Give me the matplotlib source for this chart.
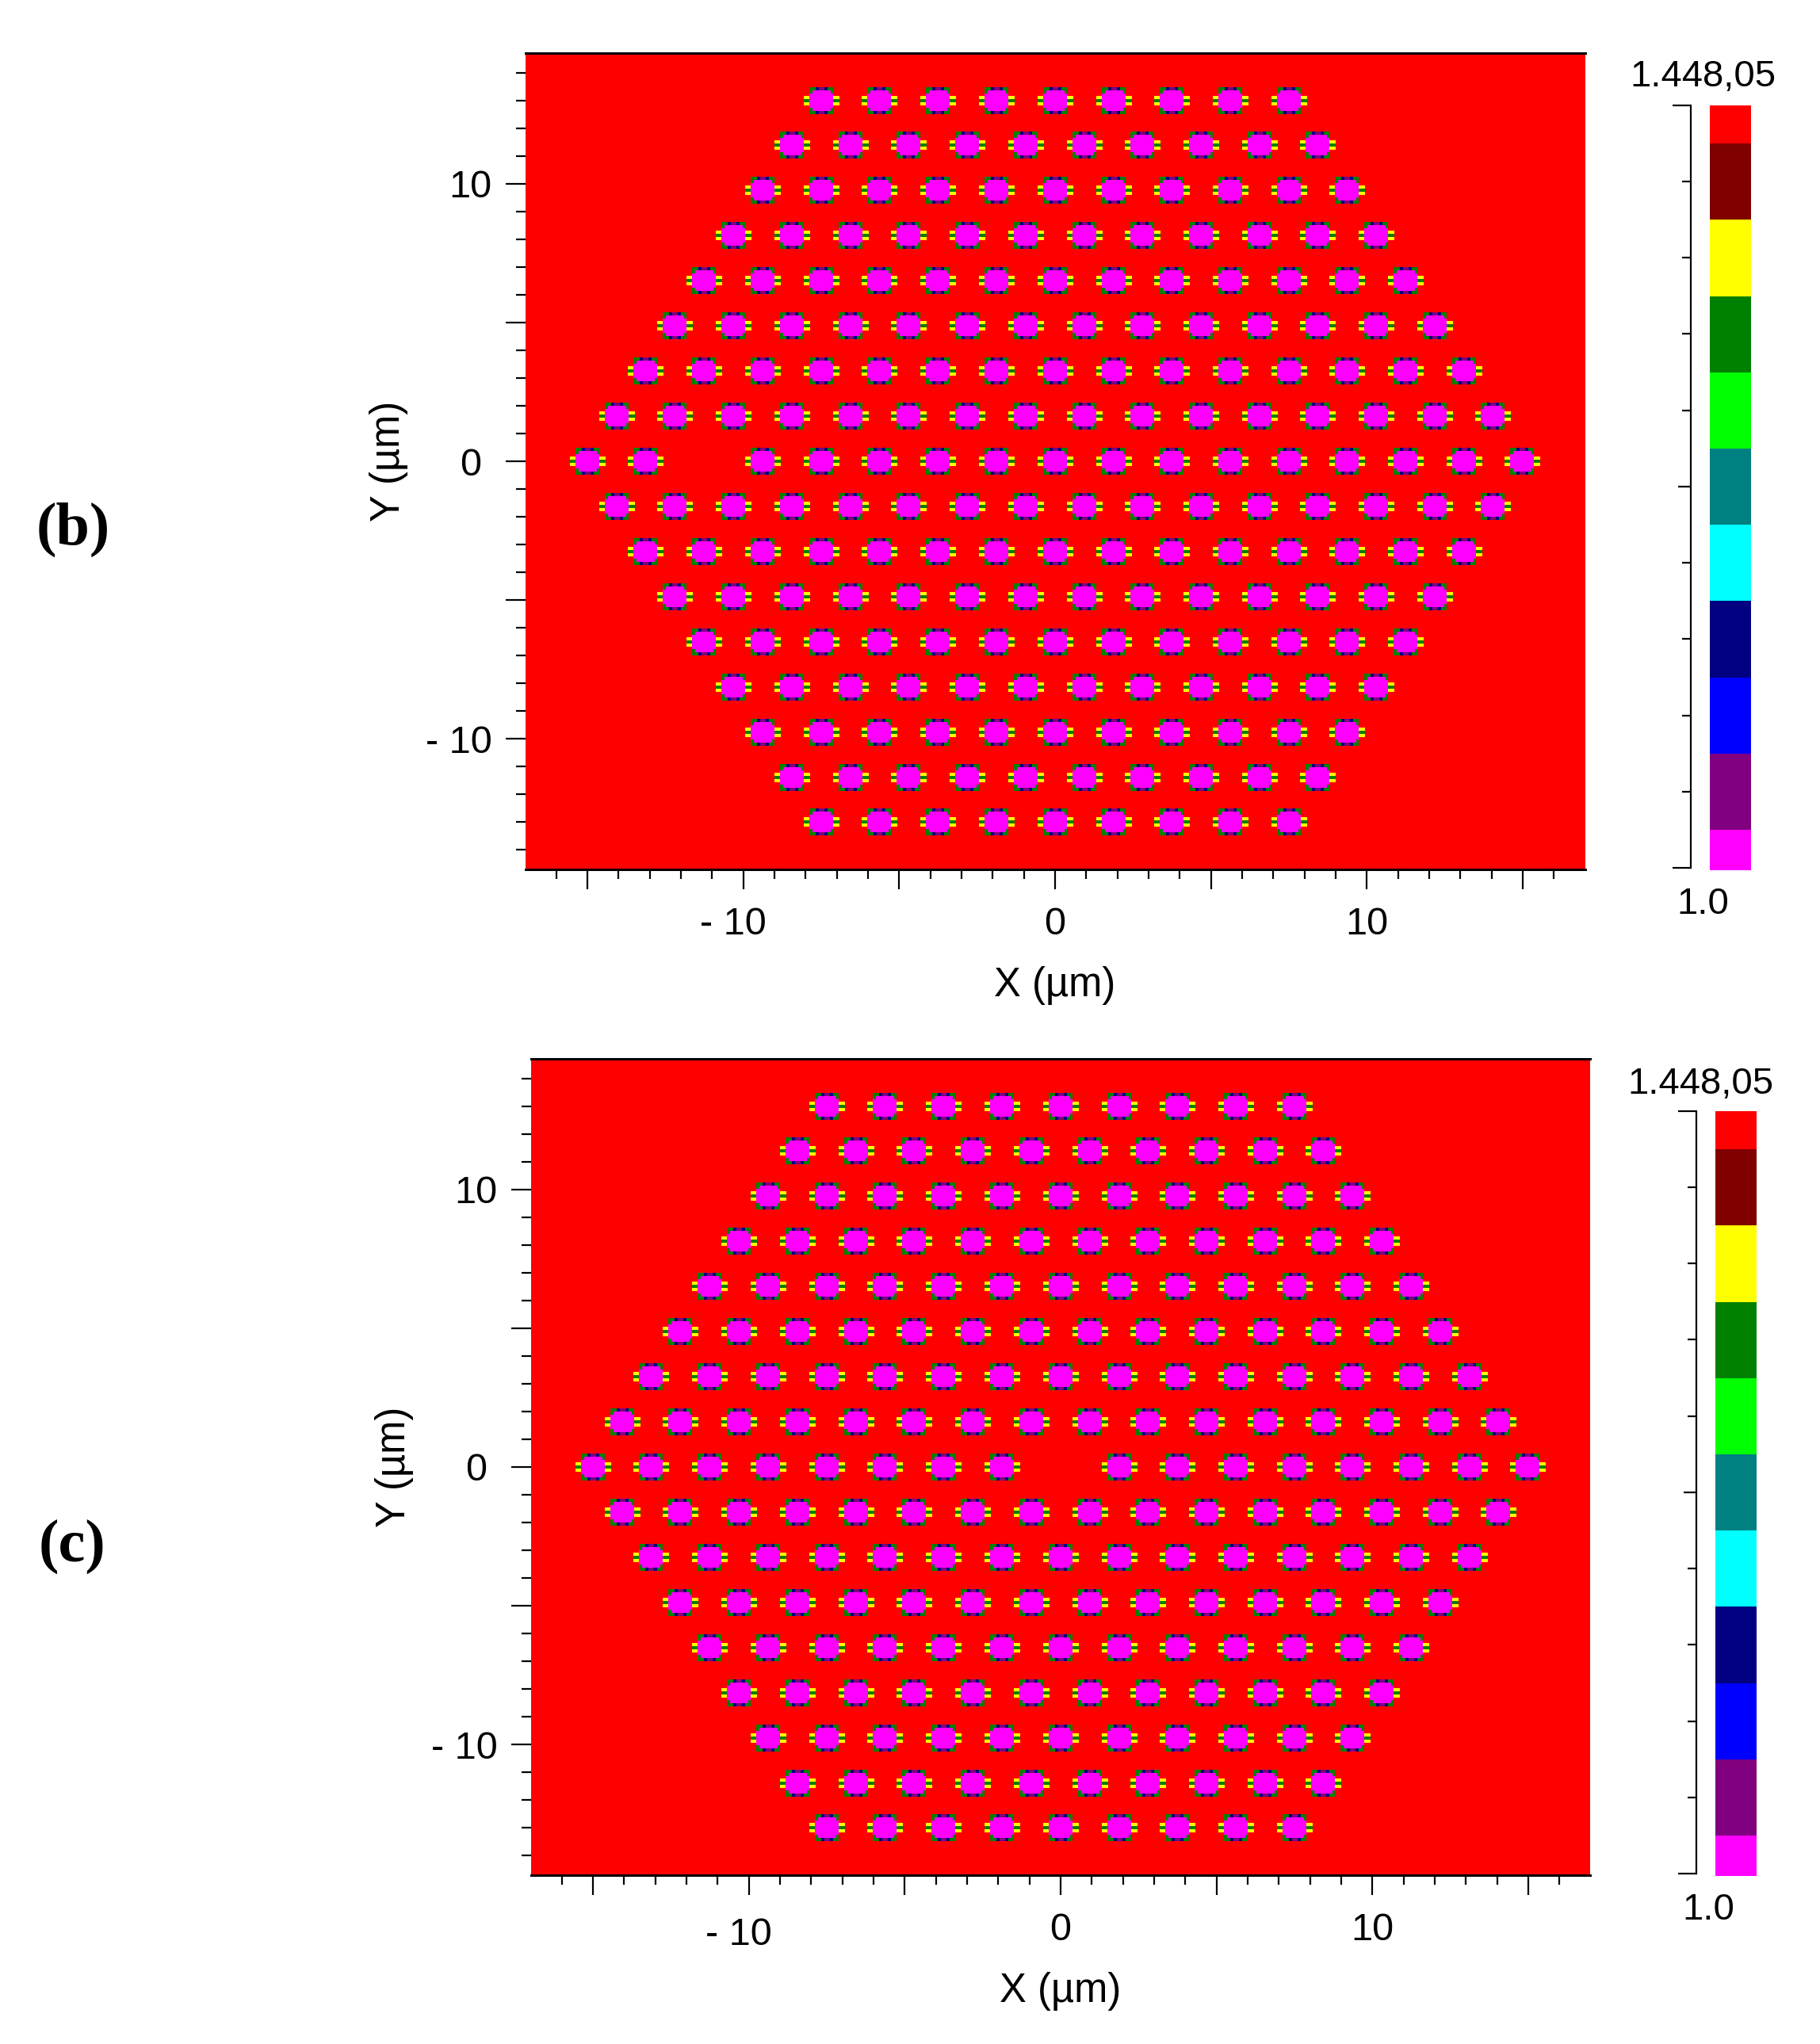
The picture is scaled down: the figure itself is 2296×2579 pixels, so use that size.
import numpy as np
import matplotlib
matplotlib.use("Agg")
import matplotlib.pyplot as plt
from matplotlib.colors import to_rgba
from matplotlib.transforms import ScaledTranslation

# -- data --
ROW_Y = [13.0, 11.38, 9.75, 8.13, 6.5, 4.88, 3.25, 1.63, 0.0,
         -1.63, -3.25, -4.88, -6.5, -8.13, -9.75, -11.38, -13.0]

RING_8 = [-7.5, -5.63, -3.75, -1.88, 0.0, 1.88, 3.75, 5.63, 7.5]
RING_7 = [-8.44, -6.56, -4.69, -2.81, -0.94, 0.94, 2.81, 4.69, 6.56, 8.44]
RING_6 = [-9.38, -7.5, -5.63, -3.75, -1.88, 0.0, 1.88, 3.75, 5.63, 7.5, 9.38]
RING_5 = [-10.31, -8.44, -6.56, -4.69, -2.81, -0.94, 0.94, 2.81, 4.69, 6.56, 8.44, 10.31]
RING_4 = [-11.25, -9.38, -7.5, -5.63, -3.75, -1.88, 0.0, 1.88, 3.75, 5.63, 7.5, 9.38, 11.25]
RING_3 = [-12.19, -10.31, -8.44, -6.56, -4.69, -2.81, -0.94, 0.94, 2.81, 4.69, 6.56, 8.44, 10.31, 12.19]
RING_2 = [-13.13, -11.25, -9.38, -7.5, -5.63, -3.75, -1.88, 0.0, 1.88, 3.75, 5.63, 7.5, 9.38, 11.25, 13.13]
RING_1 = [-14.06, -12.19, -10.31, -8.44, -6.56, -4.69, -2.81, -0.94, 0.94, 2.81, 4.69, 6.56, 8.44, 10.31, 12.19, 14.06]

# centre row, each panel has its defect at a different hole
CENTRE_B = [-15.0, -13.13, -9.38, -7.5, -5.63, -3.75, -1.88, 0.0, 1.88, 3.75, 5.63, 7.5, 9.38, 11.25, 13.13, 15.0]
CENTRE_C = [-15.0, -13.13, -11.25, -9.38, -7.5, -5.63, -3.75, -1.88, 1.88, 3.75, 5.63, 7.5, 9.38, 11.25, 13.13, 15.0]

UPPER_ROWS = [RING_8, RING_7, RING_6, RING_5, RING_4, RING_3, RING_2, RING_1]

X_MAJOR = [-15, -10, -5, 0, 5, 10, 15]
Y_MAJOR = [-10, -5, 0, 5, 10]
TICK_TEXT = {-10: "- 10", 0: "0", 10: "10"}

CB_COLORS = ["#ff00ff", "#800080", "#0000ff", "#000080", "#00ffff", "#008080",
             "#00ff00", "#008000", "#ffff00", "#800000", "#ff0000"]
CB_EDGES = [1.0, 1.0224, 1.0672, 1.112, 1.1568, 1.2016, 1.2464, 1.2912, 1.336, 1.3808, 1.4256, 1.44805]
CB_TICKS = [1.0, 1.0448, 1.0896, 1.1344, 1.1792, 1.224, 1.2689, 1.3137, 1.3585, 1.4033, 1.44805]

# pixel look of one hole on the simulation grid
HOLE_STAMP = ["..GGNPPNGG..",
              "..GMMMMMMG..",
              "..MMMMMMMM..",
              "YYMMMMMMMMYY",
              "GGMMMMMMMMGG",
              "YYMMMMMMMMYY",
              "..MMMMMMMM..",
              "..GMMMMMMG..",
              "..GGNPPNGG.."]
STAMP_COLORS = {".": (0, 0, 0, 0), "G": to_rgba("#008000"), "N": to_rgba("#000080"),
                "P": to_rgba("#800080"), "M": to_rgba("#ff00ff"), "Y": to_rgba("#ffff00")}
HOLE_W, HOLE_H = 1.14, 0.97

W, H = 2296, 2579
plt.rcParams["font.family"] = ["Liberation Sans", "DejaVu Sans"]
fig = plt.figure(figsize=(W / 100, H / 100), dpi=100)
px = 72 / 100  # points per pixel

stamp = np.array([[STAMP_COLORS[c] for c in row] for row in HOLE_STAMP])


def axes_px(left, top, right, bottom):
    return fig.add_axes([left / W, 1 - bottom / H, (right - left) / W, (bottom - top) / H])


def shift_label(label, dx, dy):
    label.set_transform(label.get_transform() + ScaledTranslation(dx / 100, dy / 100, fig.dpi_scale_trans))


def draw_panel(left, top, centre_row, low_minus=False):
    ax = axes_px(left, top, left + 1337, top + 1030)
    ax.set_facecolor("#ff0000")
    rows = UPPER_ROWS + [centre_row] + UPPER_ROWS[::-1]
    for y, xs in zip(ROW_Y, rows):
        for x in xs:
            ax.imshow(stamp, extent=[x - HOLE_W / 2, x + HOLE_W / 2, y - HOLE_H / 2, y + HOLE_H / 2],
                      aspect="auto", interpolation="nearest", zorder=2)
    ax.set_xlim(-17.0, 17.0)
    ax.set_ylim(-14.7, 14.7)

    ax.set_xticks(X_MAJOR)
    ax.set_xticklabels([TICK_TEXT.get(v, "") for v in X_MAJOR])
    ax.set_yticks(Y_MAJOR)
    ax.set_yticklabels([TICK_TEXT.get(v, "") for v in Y_MAJOR])
    ax.set_xticks(np.arange(-16, 17), minor=True)
    ax.set_yticks(np.arange(-14, 15), minor=True)
    ax.tick_params(which="major", length=25 * px, width=2.2 * px, labelsize=35)
    ax.tick_params(which="minor", length=12 * px, width=2.2 * px)
    ax.tick_params(axis="x", which="major", pad=22 * px)
    ax.tick_params(axis="y", which="major", pad=17 * px)

    ax.spines["left"].set_visible(False)
    ax.spines["right"].set_visible(False)
    ax.spines["top"].set_linewidth(3 * px)
    ax.spines["bottom"].set_linewidth(3 * px)

    # "0" on the y axis sits left of the right edge of "10"
    for tick in ax.yaxis.get_major_ticks():
        if tick.label1.get_text() == "0":
            shift_label(tick.label1, -13, 0)
    for tick in ax.xaxis.get_major_ticks():
        if tick.label1.get_text().startswith("-"):
            shift_label(tick.label1, -13, -6 if low_minus else 0)

    ax.set_xlabel("X (µm)", fontsize=36.5, va="center")
    ax.set_ylabel("Y (µm)", fontsize=36.5, va="center")
    ax.xaxis.set_label_coords(0.5, -0.142)
    ax.yaxis.set_label_coords(-0.129, 0.5)
    return ax


def draw_colorbar(left, top, top_text_x, top_text_y, low_text_y):
    cb = axes_px(left, top, left + 52, top + 965)
    cb.set_facecolor("#ff00ff")
    heights = np.diff(CB_EDGES)
    cb.bar(0, heights, bottom=CB_EDGES[:-1], width=1, color=CB_COLORS)
    cb.set_xlim(-0.5, 0.5)
    cb.set_ylim(0.9986, 1.44805)
    cb.set_xticks([])
    for side in ["top", "right", "bottom"]:
        cb.spines[side].set_visible(False)
    cb.spines["left"].set_position(("outward", 24 * px))
    cb.spines["left"].set_bounds(1.0, 1.44805)
    cb.spines["left"].set_linewidth(2.2 * px)
    cb.set_yticks([1.0, 1.224, 1.44805])
    cb.set_yticks(CB_TICKS, minor=True)
    cb.set_yticklabels([])
    cb.tick_params(which="major", length=23 * px, width=2.2 * px)
    cb.tick_params(which="minor", length=11 * px, width=2.2 * px)
    cb.yaxis.get_major_ticks()[1].tick1line.set_markersize(16 * px)
    fig.text(top_text_x / W, 1 - top_text_y / H, "1.448,05", fontsize=34, ha="center", va="center")
    fig.text((left - 9) / W, 1 - low_text_y / H, "1.0", fontsize=34, ha="center", va="center")


draw_panel(662.5, 67, CENTRE_B)
draw_panel(669.5, 1336, CENTRE_C, low_minus=True)
draw_colorbar(2157, 133, 2148, 97, 1141)
draw_colorbar(2164, 1402, 2145, 1368, 2410)

fig.text(92 / W, 1 - 668 / H, "(b)", fontsize=55, fontweight="bold", family="Liberation Serif",
         ha="center", va="center")
fig.text(91 / W, 1 - 1951 / H, "(c)", fontsize=55, fontweight="bold", family="Liberation Serif",
         ha="center", va="center")

fig.savefig("out.png", dpi=100)
